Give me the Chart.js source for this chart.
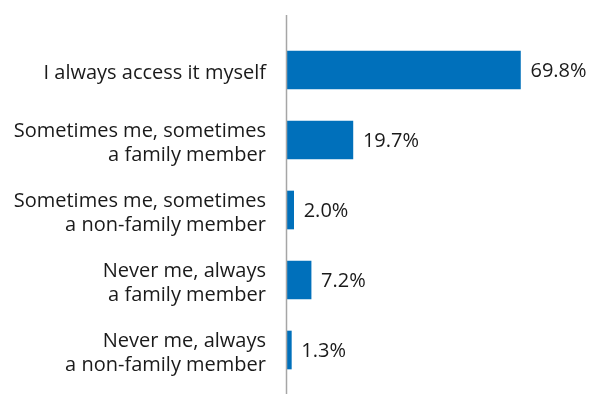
<!DOCTYPE html>
<html>
<head>
<meta charset="utf-8">
<script src="https://cdn.jsdelivr.net/npm/chart.js@4"></script>
<style>
  html, body { margin: 0; padding: 0; background: #ffffff; }
  #wrap { width: 592px; height: 394px; position: relative; }
</style>
</head>
<body>
<div id="wrap"><canvas id="c"></canvas></div>
<script>
// Who accesses the account
const categories = [
  ["I always access it myself"],
  ["Sometimes me, sometimes", "a family member"],
  ["Sometimes me, sometimes", "a non-family member"],
  ["Never me, always", "a family member"],
  ["Never me, always", "a non-family member"]
];
const shares = [69.8, 19.7, 2.0, 7.2, 1.3];
const valueLabels = ["69.8%", "19.7%", "2.0%", "7.2%", "1.3%"];

const FONT = '"Open Sans", "Noto Sans", sans-serif';
const TEXT = '#1a1a1a';
const BAR = '#0070bb';

// Value labels at bar ends and the tall vertical axis line
const extras = {
  id: 'extras',
  afterDatasetsDraw(chart) {
    const ctx = chart.ctx;
    const meta = chart.getDatasetMeta(0);
    ctx.save();
    ctx.font = '20px ' + FONT;
    ctx.fillStyle = TEXT;
    ctx.textAlign = 'left';
    ctx.textBaseline = 'middle';
    meta.data.forEach((bar, i) => {
      ctx.fillText(valueLabels[i], bar.x + 10, bar.y + 1);
    });
    const x = Math.round(chart.chartArea.left) - 0.5;
    ctx.strokeStyle = '#a6a6a6';
    ctx.lineWidth = 1.5;
    ctx.beginPath();
    ctx.moveTo(x, 15);
    ctx.lineTo(x, chart.height);
    ctx.stroke();
    ctx.restore();
  }
};

new Chart(document.getElementById('c'), {
  type: 'bar',
  data: {
    labels: categories,
    datasets: [{
      data: shares,
      backgroundColor: BAR,
      borderWidth: 0,
      barThickness: 38
    }]
  },
  options: {
    indexAxis: 'y',
    responsive: true,
    maintainAspectRatio: false,
    animation: false,
    layout: { padding: { top: 35, bottom: 9, left: 0, right: 4 } },
    plugins: { legend: { display: false }, tooltip: { enabled: false } },
    scales: {
      x: {
        display: false,
        min: 0,
        max: 90
      },
      y: {
        afterFit(scale) {
          scale.width = 287;
          scale.paddingTop = 0;
          scale.paddingBottom = 0;
        },
        grid: { display: false, drawTicks: false },
        border: { display: false },
        ticks: {
          padding: 21,
          labelOffset: 3,
          color: TEXT,
          font: { family: FONT, size: 20, lineHeight: 1.2 }
        }
      }
    }
  },
  plugins: [extras]
});
</script>
</body>
</html>
